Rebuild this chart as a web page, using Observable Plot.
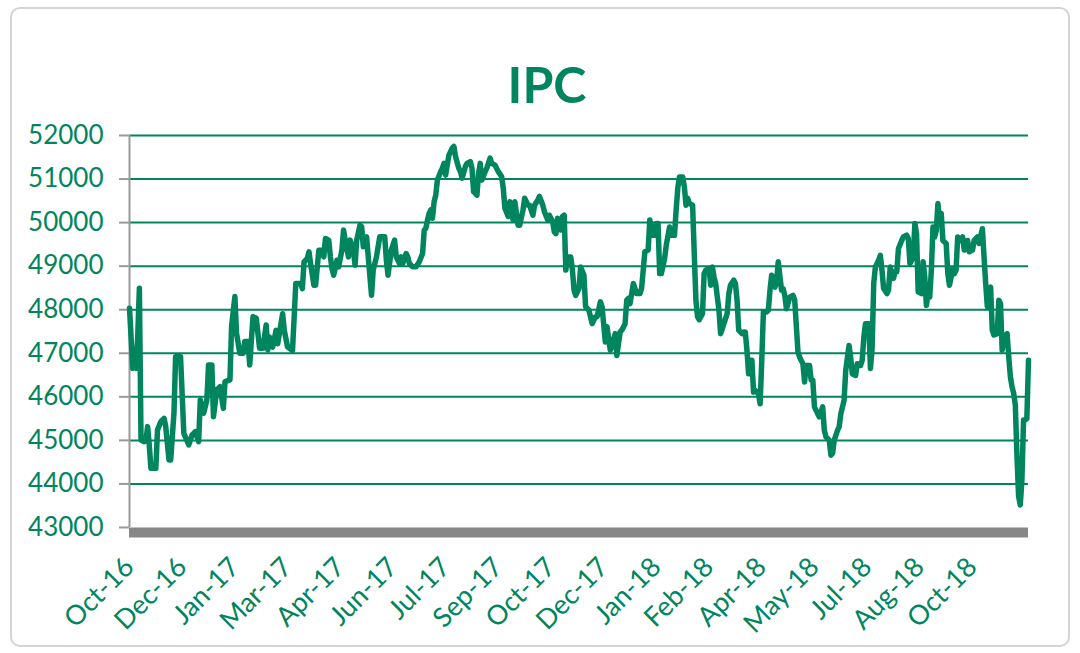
<!DOCTYPE html>
<html><head><meta charset="utf-8">
<script src="https://cdn.jsdelivr.net/npm/d3@7"></script>
<script src="https://cdn.jsdelivr.net/npm/@observablehq/plot@0.6"></script>
<style>
body{margin:0;background:#fff;}
#wrap{position:relative;width:1080px;height:653px;overflow:hidden;}
#border{position:absolute;left:10px;top:7px;width:1056px;height:636px;border:2px solid #d4d4d4;border-radius:10px;pointer-events:none;}
</style></head><body><div id="wrap"><div id="border"></div></div>
<script>
// trading-session index of each sampled point
const session = [
0,2,3,4,5,6,7,9,10,11,
12,13,16,17,19,21,22,24,25,27,
28,31,33,36,38,40,42,43,45,47,
48,50,51,53,55,57,58,61,62,64,
65,67,69,70,72,73,75,77,79,81,
83,84,85,87,89,90,93,94,96,99,
101,104,105,106,108,109,110,112,113,115,
117,118,119,121,122,123,124,126,127,129,
130,131,133,134,136,137,138,140,141,142,
144,145,147,148,150,152,155,156,157,159,
161,162,164,165,166,168,169,170,172,174,
176,178,179,180,181,182,183,184,185,186,
187,189,190,191,192,194,195,196,197,198,
200,201,202,204,205,207,208,209,211,212,
213,214,216,217,219,220,222,224,226,227,
228,230,231,233,234,236,237,239,240,242,
243,245,246,248,249,251,252,254,255,257,
258,259,260,261,262,263,264,265,266,268,
269,270,271,273,274,276,277,279,281,283,
284,286,287,289,290,292,293,295,296,298,
299,301,302,303,304,306,307,308,310,311,
313,315,316,318,319,320,321,322,323,325,
326,328,329,331,332,333,334,336,337,338,
339,340,342,343,344,345,346,348,349,350,
352,353,354,355,356,358,359,360,361,363,
364,365,367,368,369,370,372,373,374,375,
376,377,378,379,380,382,383,384,385,387,
388,389,390,392,393,394,396,397,398,399,
401,403,404,406,407,409,410,411,413,414,
415,416,418,419,421,422,423,425,426,427,
428,430,431,432,434,435,437,438,439,441,
442,444,445,446,447,449,450,451,452,453,
455,456,457,458,460,461,462,464,465,466,
467,469,470,472,473,474,476,477,478,479,
481,482,483,484,485,486,487,488,489,490,
491,492,493,494,496,497,498,500,501,502,
503,505,506,507,509,510,512,513,515,516,
518,519,520,521,522,523,524,525,527,528,
529,530,531,533,534,535,536,537,538,539,
540,541,542,543,544,545,546
];
// IPC index level
const ipc = [
48034,46655,46700,46655,47383,48493,45009,44970,45000,45316,
44900,44358,44358,45239,45430,45507,45316,44550,44550,45622,
46923,46923,45162,44894,45124,45200,44970,45928,45622,45928,
46732,46732,45545,46158,46234,45737,46349,46387,47613,48302,
47460,47000,47000,47268,47268,46732,47842,47804,47115,47115,
47651,47077,47372,47142,47526,47219,47909,47526,47142,47065,
48600,48600,48485,49099,49176,49329,49061,48562,48562,49368,
49368,49214,49636,49598,49214,48946,48792,49137,48984,49368,
49828,49598,49214,49598,49368,49022,49598,49943,49905,49444,
49674,49214,48332,48907,49214,49674,49674,49137,48792,49368,
49598,49214,49061,49214,49061,49291,49214,49061,48984,48984,
49099,49291,49830,49870,50060,50210,50290,50100,50480,50630,
50980,51170,51250,51360,51090,51550,51630,51710,51750,51520,
51250,51170,51020,51290,51360,51400,51250,50710,50630,51130,
51360,50980,51170,51250,51480,51360,51320,51170,51060,50790,
50330,50140,50480,50060,50480,49940,49940,50290,50560,50400,
50400,50170,50400,50520,50600,50400,50250,50060,50170,50020,
49790,49750,50100,49940,49830,50140,50170,48910,49210,49210,
48910,48450,48330,48490,48980,48790,48070,47990,47680,47840,
47840,48180,48070,47260,47610,47070,47180,47450,46950,47490,
47530,47680,48220,48260,48140,48600,48490,48370,48370,48490,
49330,49370,50060,49710,49710,49980,49980,48830,48830,49180,
49480,49900,49710,49710,50290,50790,51050,51050,50820,50400,
50560,50440,50400,49290,48220,47840,47770,47910,48830,48910,
48950,48560,48980,48750,48600,47990,47450,47560,47680,47910,
48370,48560,48680,48600,48220,47530,47450,47490,47490,47070,
46530,46840,46840,46110,46150,46070,45840,46840,47950,47950,
47990,48450,48790,48520,48640,49100,48450,48480,48330,48020,
48290,48330,48220,47030,46910,46760,46340,46720,46720,46380,
46380,45770,45610,45540,45770,45230,45080,45000,44660,44700,
45000,45230,45310,45610,45920,46610,47180,46910,46530,46490,
46760,46720,46840,47370,47680,47680,46650,47100,48600,48980,
49140,49250,48910,48490,48370,48450,48980,48720,48870,48870,
49400,49590,49670,49710,49630,49060,49210,49980,49750,48410,
48370,49100,48750,48100,48370,48290,48910,49900,49670,49820,
50440,49980,50210,49590,49520,48830,48560,48940,48830,48910,
49670,49590,49670,49370,49590,49330,49370,49590,49670,49520,
49860,49210,48600,48070,48450,48520,47530,47420,47450,48220,
48140,47070,47380,47450,46920,46460,46230,46080,45810,44630,
43710,43520,44090,45470,45470,45500,46840
];
const tickSessions = [0,32,64,96,128,160,192,224,256,288,320,352,384,416,448,480,512];
const tickLabels = ["Oct-16","Dec-16","Jan-17","Mar-17","Apr-17","Jun-17","Jul-17","Sep-17","Oct-17","Dec-17","Jan-18","Feb-18","Apr-18","May-18","Jul-18","Aug-18","Oct-18"];
const yTicks = [43000,44000,45000,46000,47000,48000,49000,50000,51000,52000];
const title = "IPC";

const data = session.map((s, i) => ({s, v: ipc[i]}));
const green = "#00855f";

const chart = Plot.plot({
  width: 1080, height: 653,
  marginLeft: 129, marginRight: 52, marginTop: 135, marginBottom: 126,
  style: {fontFamily: "Lato, 'Open Sans', sans-serif", background: "transparent", overflow: "visible"},
  x: {domain: [0, 546]},
  y: {domain: [43000, 52000]},
  marks: [
    Plot.gridY(yTicks.filter(t => t > 43000), {stroke: green, strokeOpacity: 1, strokeWidth: 2}),
    Plot.ruleY([43000], {stroke: "#878787", strokeWidth: 10, dy: 5}),
    Plot.ruleX([0], {stroke: "#9a9a9a", strokeWidth: 2}),
    Plot.axisY(yTicks, {tickSize: 10, tickPadding: 16, stroke: "#9a9a9a", strokeWidth: 2, fill: green, fontSize: 26, tickFormat: d => String(d), label: null}),
    Plot.axisX(tickSessions, {tickSize: 0, tickPadding: 35, tickRotate: -45, tickFormat: (d, i) => tickLabels[i], fill: green, fontSize: 27, label: null}),
    Plot.lineY(data, {x: "s", y: "v", stroke: green, strokeWidth: 5.5, strokeLinejoin: "round"}),
    Plot.text([title], {frameAnchor: "top", dx: -32, dy: -68, fontSize: 50, fontWeight: "bold", fill: green})
  ]
});
document.getElementById("wrap").prepend(chart);
</script>
</body></html>
